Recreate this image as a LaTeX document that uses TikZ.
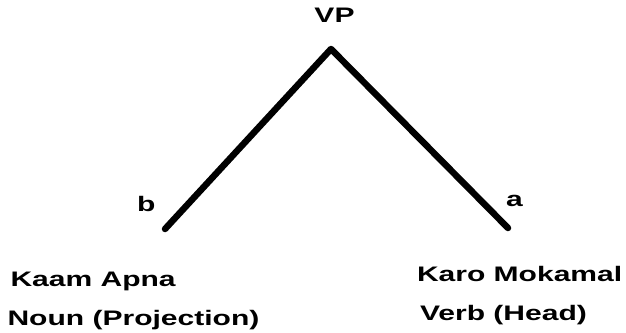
\documentclass[tikz,border=0pt]{standalone}
\usepackage{fontspec}
\setmainfont{Liberation Sans}
\usepackage{graphicx}
\newcommand{\widetext}[1]{\scalebox{1.43}[1]{\bfseries #1}}
\begin{document}
\begin{tikzpicture}[x=1pt,y=-1pt,
  lbl/.style={inner sep=0pt,outer sep=0pt,font=\fontsize{21}{24}\selectfont},
  branch/.style={line width=6.5pt,line cap=round,line join=round,black}]
\useasboundingbox (0,0) rectangle (626,332);
% tree skeleton
\coordinate (apex) at (331,49);
\coordinate (lend) at (165,229);
\coordinate (rend) at (508,228);
\draw[branch] (lend) -- (apex) -- (rend);
% category and branch labels
\node[lbl,anchor=base] (vp) at (334.5,22.5) {\widetext{VP}};
\node[lbl,anchor=base west] (b) at (137,211) {\widetext{b}};
\node[lbl,anchor=base west] (a) at (506,206) {\widetext{a}};
% leaf texts
\node[lbl,anchor=base west] (kaam) at (10.5,286.5) {\widetext{Kaam Apna}};
\node[lbl,anchor=base west] (noun) at (7.5,325) {\widetext{Noun (Projection)}};
\node[lbl,anchor=base west] (karo) at (417,281.5) {\widetext{Karo Mokamal}};
\node[lbl,anchor=base west] (verb) at (420,320) {\widetext{Verb (Head)}};
\end{tikzpicture}
\end{document}
